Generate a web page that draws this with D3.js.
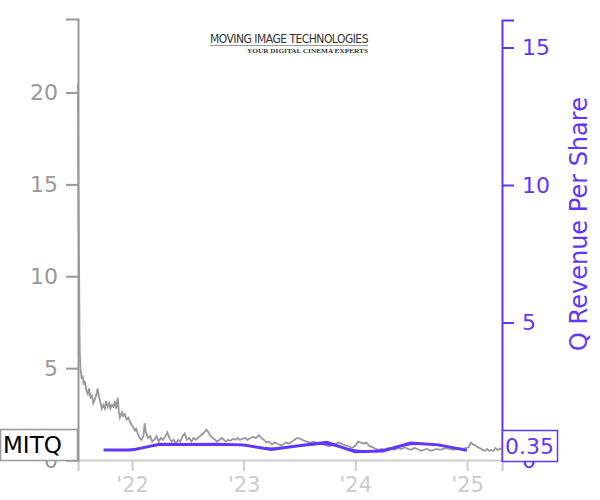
<!DOCTYPE html>
<html><head><meta charset="utf-8">
<script src="https://cdn.jsdelivr.net/npm/d3@7"></script>
<style>body{margin:0;background:#fff;}svg{display:block;font-family:"DejaVu Sans",sans-serif;}</style>
</head><body><svg id="c" width="600" height="500"></svg>
<script>
const ticker = "MITQ";
const rightTitle = "Q Revenue Per Share";
const leftTicks = [0, 5, 10, 15, 20];
const rightTicks = [0, 5, 10, 15];
const yearTicks = ["2022-01-01", "2023-01-01", "2024-01-01", "2025-01-01"];
const yearLabels = ["'22", "'23", "'24", "'25"];
const priceData = [
["2021-07-08",20.5],["2021-07-09",15.0],["2021-07-12",9.5],["2021-07-13",7.0],["2021-07-14",5.8],["2021-07-16",5.0],
["2021-07-20",4.4],["2021-07-23",4.6],["2021-07-27",4.1],["2021-07-30",4.3],["2021-08-04",3.8],["2021-08-09",3.6],
["2021-08-13",3.9],["2021-08-18",3.4],["2021-08-23",3.5],["2021-08-27",3.1],["2021-09-01",3.3],["2021-09-07",3.6],
["2021-09-10",3.9],["2021-09-15",3.4],["2021-09-20",3.1],["2021-09-24",2.8],["2021-09-29",3.0],["2021-10-04",2.8],
["2021-10-08",3.2],["2021-10-13",2.9],["2021-10-18",3.1],["2021-10-22",2.8],["2021-10-27",3.0],["2021-11-01",2.9],
["2021-11-05",3.2],["2021-11-10",2.8],["2021-11-15",3.4],["2021-11-18",2.7],["2021-11-22",2.3],["2021-11-29",2.6],
["2021-12-03",2.4],["2021-12-08",2.5],["2021-12-14",2.2],["2021-12-20",2.3],["2021-12-27",2.0],["2022-01-04",1.8],
["2022-01-10",1.6],["2022-01-14",1.7],["2022-01-20",1.4],["2022-01-26",1.2],["2022-02-01",1.1],["2022-02-07",1.3],
["2022-02-11",2.0],["2022-02-15",1.5],["2022-02-22",1.2],["2022-03-01",1.3],["2022-03-08",1.0],["2022-03-15",1.1],
["2022-03-22",1.3],["2022-03-29",1.0],["2022-04-05",1.2],["2022-04-12",1.1],["2022-04-20",1.3],["2022-04-26",1.5],
["2022-05-03",1.2],["2022-05-10",1.0],["2022-05-17",1.1],["2022-05-24",0.9],["2022-06-01",1.1],["2022-06-08",1.0],
["2022-06-15",1.3],["2022-06-22",1.45],["2022-06-29",1.1],["2022-07-07",1.2],["2022-07-14",1.0],["2022-07-21",1.2],
["2022-07-28",1.1],["2022-08-04",1.2],["2022-08-11",1.3],["2022-08-18",1.4],["2022-08-25",1.5],["2022-09-01",1.65],
["2022-09-08",1.5],["2022-09-15",1.3],["2022-09-22",1.2],["2022-09-29",1.1],["2022-10-06",1.0],["2022-10-14",1.1],
["2022-10-21",1.2],["2022-10-28",1.1],["2022-11-04",1.0],["2022-11-11",1.1],["2022-11-18",1.05],["2022-11-28",1.15],
["2022-12-05",1.1],["2022-12-12",1.2],["2022-12-19",1.1],["2022-12-28",1.15],["2023-01-06",1.2],["2023-01-13",1.1],
["2023-01-23",1.2],["2023-02-01",1.25],["2023-02-10",1.2],["2023-02-20",1.35],["2023-02-27",1.2],["2023-03-08",1.1],
["2023-03-16",0.95],["2023-03-24",1.0],["2023-04-03",0.85],["2023-04-12",0.95],["2023-04-21",0.9],["2023-05-01",0.8],
["2023-05-10",0.85],["2023-05-19",0.95],["2023-05-30",0.9],["2023-06-08",1.0],["2023-06-16",1.1],["2023-06-26",1.2],
["2023-07-06",1.15],["2023-07-17",1.05],["2023-07-27",1.0],["2023-08-07",0.95],["2023-08-17",1.0],["2023-08-28",0.95],
["2023-09-07",0.85],["2023-09-18",0.9],["2023-09-28",0.8],["2023-10-10",0.75],["2023-10-20",0.85],["2023-10-31",0.9],
["2023-11-10",0.95],["2023-11-21",0.85],["2023-12-01",0.8],["2023-12-12",0.75],["2023-12-21",0.65],["2024-01-03",0.8],
["2024-01-10",1.0],["2024-01-19",0.95],["2024-01-29",0.9],["2024-02-07",0.95],["2024-02-16",0.75],["2024-02-27",0.7],
["2024-03-07",0.6],["2024-03-18",0.55],["2024-03-27",0.6],["2024-04-08",0.55],["2024-04-18",0.65],["2024-04-29",0.6],
["2024-05-09",0.55],["2024-05-20",0.65],["2024-05-31",0.6],["2024-06-11",0.7],["2024-06-21",0.6],["2024-07-02",0.55],
["2024-07-12",0.65],["2024-07-23",0.6],["2024-08-02",0.5],["2024-08-13",0.55],["2024-08-23",0.6],["2024-09-03",0.5],
["2024-09-13",0.55],["2024-09-24",0.6],["2024-10-04",0.55],["2024-10-15",0.6],["2024-10-25",0.65],["2024-11-05",0.6],
["2024-11-15",0.55],["2024-11-26",0.6],["2024-12-06",0.65],["2024-12-17",0.6],["2024-12-27",0.65],["2025-01-06",0.7],
["2025-01-13",0.95],["2025-01-20",0.85],["2025-01-27",0.8],["2025-02-04",0.7],["2025-02-12",0.65],["2025-02-20",0.55],
["2025-02-28",0.5],["2025-03-07",0.6],["2025-03-14",0.5],["2025-03-21",0.55],["2025-03-28",0.5],["2025-04-04",0.65],
["2025-04-11",0.55],["2025-04-18",0.6],["2025-04-25",0.6]
];
const revQuarters = ["2021-09-30","2021-12-31","2022-03-31","2022-06-30","2022-09-30","2022-12-31","2023-03-31",
  "2023-06-30","2023-09-30","2023-12-31","2024-03-31","2024-06-30","2024-09-30","2024-12-31"];
const revValues = [0.36,0.36,0.57,0.56,0.57,0.55,0.38,0.52,0.64,0.30,0.33,0.62,0.55,0.35];
const lastLabel = "0.35";

const svg = d3.select("#c");
const parse = d3.timeParse("%Y-%m-%d");
const purple = "#6236ff", gray = "#999", light = "#ccc";
const L = 78, R = 502, T = 19, B = 460;

const x = d3.scaleTime().domain([parse("2021-07-08"), parse("2025-04-25")]).range([L, R]);
const yL = d3.scaleLinear().domain([0, 24]).range([B, T]);
const yR = d3.scaleLinear().domain([0, 16]).range([B, T + 1]);

// logo
const logo = svg.append("g");
logo.append("text").attr("x", 210).attr("y", 43).attr("textLength", 158).attr("lengthAdjust", "spacingAndGlyphs")
  .style("font-family", "'Liberation Sans Narrow','DejaVu Sans Condensed',sans-serif").style("font-size", "12px")
  .style("letter-spacing", "-0.5px").attr("fill", "#333").text("MOVING IMAGE TECHNOLOGIES");
logo.append("line").attr("x1", 210).attr("x2", 368).attr("y1", 45.5).attr("y2", 45.5).attr("stroke", "#999").attr("stroke-width", 1);
logo.append("text").attr("x", 368).attr("y", 53).attr("text-anchor", "end").attr("textLength", 121).attr("lengthAdjust", "spacingAndGlyphs")
  .style("font-family", "'Liberation Serif',serif").style("font-size", "7px").style("font-weight", "bold")
  .attr("fill", "#333").text("YOUR DIGITAL CINEMA EXPERTS");

// bottom axis
const gx = svg.append("g").attr("transform", `translate(0,${B})`)
  .call(d3.axisBottom(x).tickValues(yearTicks.map(parse)).tickFormat((d, i) => yearLabels[i]).tickSize(11).tickSizeOuter(11).tickPadding(6));
gx.selectAll("path,line").attr("stroke", light).attr("stroke-width", 2);
gx.selectAll("text").attr("fill", light).style("font-size", "21px").style("font-family", "'DejaVu Sans',sans-serif");

// left axis
const gl = svg.append("g").attr("transform", `translate(${L},0)`)
  .call(d3.axisLeft(yL).tickValues(leftTicks).tickSize(12).tickSizeOuter(12).tickPadding(8));
gl.selectAll("path,line").attr("stroke", gray).attr("stroke-width", 2);
gl.selectAll("text").attr("fill", gray).style("font-size", "22px").style("font-family", "'DejaVu Sans',sans-serif");

// right axis
const gr = svg.append("g").attr("transform", `translate(${R},0)`)
  .call(d3.axisRight(yR).tickValues(rightTicks).tickSize(12).tickSizeOuter(12).tickPadding(8));
gr.selectAll("path,line").attr("stroke", purple).attr("stroke-width", 2);
gr.selectAll("text").attr("fill", purple).style("font-size", "22px").style("font-family", "'DejaVu Sans',sans-serif");

svg.append("text").attr("transform", `translate(587,224) rotate(-90)`).attr("text-anchor", "middle")
  .attr("fill", purple).style("font-size", "24px").text(rightTitle);

// price line
const pd = priceData.map(d => ({date: parse(d[0]), v: d[1]}));
svg.append("path").datum(pd).attr("fill", "none").attr("stroke", gray).attr("stroke-width", 1.8)
  .attr("d", d3.line().x(d => x(d.date)).y(d => yL(d.v)));

// revenue line
const rd = revQuarters.map((q, i) => ({date: parse(q), v: revValues[i]}));
svg.append("path").datum(rd).attr("fill", "none").attr("stroke", purple).attr("stroke-width", 1.5)
  .attr("d", d3.line().curve(d3.curveBasis).x(d => x(d.date)).y(d => yR(d.v)));
svg.append("path").datum(rd).attr("fill", "none").attr("stroke", purple).attr("stroke-width", 3)
  .attr("d", d3.line().x(d => x(d.date)).y(d => yR(d.v)));

// ticker box
svg.append("rect").attr("x", 0.5).attr("y", 429.5).attr("width", 77).attr("height", 31)
  .attr("fill", "#fff").attr("stroke", gray).attr("stroke-width", 1.5);
svg.append("text").attr("x", 3).attr("y", 453).attr("fill", "#000").style("font-size", "23px").text(ticker);

// last value box
svg.append("rect").attr("x", 502.5).attr("y", 430.5).attr("width", 55).attr("height", 31)
  .attr("fill", "#fff").attr("stroke", purple).attr("stroke-width", 1.5);
svg.append("text").attr("x", 505).attr("y", 454).attr("fill", purple).style("font-size", "22px").text(lastLabel);
</script></body></html>
